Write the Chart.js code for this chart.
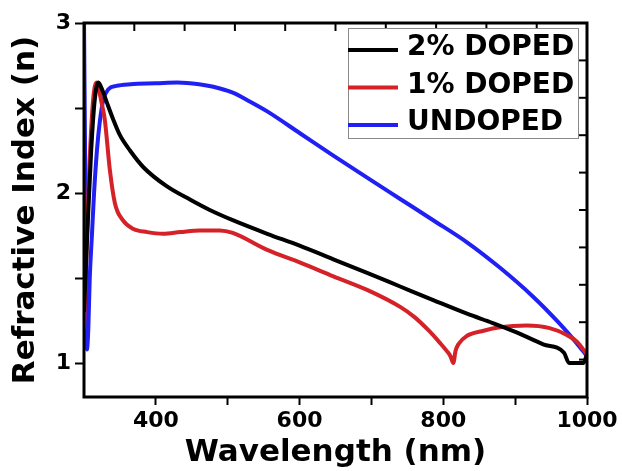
<!DOCTYPE html>
<html>
<head>
<meta charset="utf-8">
<script src="https://cdn.jsdelivr.net/npm/chart.js@4.4.1/dist/chart.umd.min.js"></script>
<style>
  html, body { margin: 0; padding: 0; background: #fff; }
  #wrap { width: 622px; height: 471px; }
</style>
</head>
<body>
<div id="wrap"><canvas id="my-chart" width="622" height="471"></canvas></div>
<script>
// wavelength (nm) and refractive index
const wl2 = [300, 305, 310, 315, 320, 326, 332, 340, 350, 364, 383, 415, 448, 475, 507, 555, 600, 647, 694, 740, 786, 833, 869, 902, 939, 968, 975, 995, 1000];
const n2  = [1.3, 1.8, 2.25, 2.55, 2.65, 2.6, 2.53, 2.44, 2.34, 2.25, 2.15, 2.04, 1.96, 1.9, 1.84, 1.76, 1.69, 1.61, 1.53, 1.45, 1.37, 1.29, 1.235, 1.18, 1.11, 1.06, 1.0, 1.0, 1.05];

const wl1 = [300, 303, 307, 311, 314, 317, 320, 325, 329, 336, 343, 354, 368, 388, 410, 434, 461, 489, 507, 555, 601, 647, 694, 740, 760, 780, 795, 805, 810, 814, 817, 821, 833, 856, 879, 916, 948, 972, 986, 1000];
const n1  = [1.2, 1.6, 2.1, 2.45, 2.6, 2.65, 2.62, 2.52, 2.43, 2.135, 1.94, 1.84, 1.79, 1.77, 1.76, 1.77, 1.78, 1.78, 1.765, 1.665, 1.59, 1.51, 1.43, 1.33, 1.27, 1.19, 1.12, 1.07, 1.04, 1.0, 1.07, 1.11, 1.16, 1.19, 1.21, 1.22, 1.205, 1.165, 1.125, 1.05];

const wl0 = [300, 302, 304, 306, 308, 311, 314, 318, 322, 327, 334, 345, 365, 400, 430, 460, 480, 507, 530, 555, 601, 647, 694, 740, 786, 833, 879, 925, 960, 985, 1000];
const n0  = [3.0, 2.0, 1.08, 1.2, 1.5, 1.75, 2.0, 2.25, 2.42, 2.55, 2.61, 2.63, 2.64, 2.645, 2.65, 2.64, 2.625, 2.59, 2.54, 2.48, 2.35, 2.22, 2.09, 1.965, 1.84, 1.71, 1.56, 1.39, 1.24, 1.12, 1.04];

const labels = ['2% DOPED', '1% DOPED', 'UNDOPED'];
const colors = ['#000000', '#d42228', '#2020f4'];
const xTicks = [400, 500, 600, 700, 800, 900, 1000];
const yTicks = [1, 1.5, 2, 2.5, 3];

function pts(xs, ys) {
  return xs.map((x, i) => ({ x: x, y: ys[i] }));
}

Chart.defaults.font.family = 'DejaVu Sans';
Chart.defaults.font.weight = 'bold';
Chart.defaults.color = '#000';

// frame, inward ticks on top/right, and boxed legend
const framePlugin = {
  id: 'frame',
  afterDatasetsDraw(chart) {
    const { ctx, chartArea: a } = chart;
    ctx.save();
    ctx.strokeStyle = '#000';
    ctx.lineWidth = 2;
    const xt = chart.scales.xTop, yr = chart.scales.yRight;
    for (let i = 1; i < 10; i++) {
      const px = xt.getPixelForValue(i);
      ctx.beginPath(); ctx.moveTo(px, a.top); ctx.lineTo(px, a.top + 8); ctx.stroke();
      const py = yr.getPixelForValue(i);
      ctx.beginPath(); ctx.moveTo(a.right, py); ctx.lineTo(a.right - 8, py); ctx.stroke();
    }
    ctx.lineWidth = 3;
    ctx.strokeRect(a.left, a.top, a.right - a.left, a.bottom - a.top);

    // legend box
    const bx = 348, by = 28, bw = 230, bh = 110;
    ctx.fillStyle = '#fff';
    ctx.fillRect(bx, by, bw, bh);
    ctx.lineWidth = 1;
    ctx.strokeStyle = '#8a8a8a';
    ctx.strokeRect(bx + 0.5, by + 0.5, bw, bh);
    ctx.font = 'bold 28px "DejaVu Sans"';
    ctx.textBaseline = 'alphabetic';
    chart.data.datasets.forEach((ds, i) => {
      const ly = 50 + i * 37.5;
      ctx.strokeStyle = ds.borderColor;
      ctx.lineWidth = 4;
      ctx.beginPath(); ctx.moveTo(bx, ly); ctx.lineTo(bx + 50, ly); ctx.stroke();
      ctx.fillStyle = '#000';
      ctx.fillText(ds.label, bx + 59, ly + 5);
    });
    ctx.restore();
  }
};

const ctx = document.getElementById('my-chart').getContext('2d');
const myChart = new Chart(ctx, {
  type: 'line',
  data: {
    datasets: [
      { label: labels[0], data: pts(wl2, n2) },
      { label: labels[1], data: pts(wl1, n1) },
      { label: labels[2], data: pts(wl0, n0) },
    ].map((d, i) => Object.assign(d, {
      borderColor: colors[i],
      backgroundColor: colors[i],
      borderWidth: 4,
      pointRadius: 0,
      cubicInterpolationMode: 'monotone',
      fill: false,
    })),
  },
  options: {
    responsive: false,
    animation: false,
    layout: { padding: { top: 23, right: 35, left: 0, bottom: 0 } },
    plugins: { legend: { display: false }, tooltip: { enabled: false } },
    scales: {
      x: {
        type: 'linear',
        position: 'bottom',
        min: 300,
        max: 1000,
        afterBuildTicks: s => { s.ticks = xTicks.map(v => ({ value: v })); },
        afterFit: s => { s.height = 74; },
        grid: { drawOnChartArea: false, tickLength: 8, tickWidth: 2, tickColor: '#000' },
        border: { display: false },
        ticks: {
          padding: 3,
          maxRotation: 0,
          font: { size: 22, weight: 'bold' },
          callback: v => (v % 200 === 0 ? String(v) : ''),
        },
        title: {
          display: true,
          text: 'Wavelength (nm)',
          font: { size: 31, weight: 'bold', lineHeight: 1 },
          padding: { top: 0, bottom: 3 },
        },
      },
      y: {
        type: 'linear',
        position: 'left',
        min: 0.8,
        max: 3,
        afterBuildTicks: s => { s.ticks = yTicks.map(v => ({ value: v })); },
        afterFit: s => { s.width = 84; },
        grid: { drawOnChartArea: false, tickLength: 9, tickWidth: 2, tickColor: '#000' },
        border: { display: false },
        ticks: {
          padding: 4,
          font: { size: 22, weight: 'bold' },
          callback: v => (Number.isInteger(v) ? String(v) : ''),
        },
        title: {
          display: true,
          text: 'Refractive Index (n)',
          font: { size: 31, weight: 'bold', lineHeight: 1 },
          padding: { top: 10, bottom: 0 },
        },
      },
      xTop: {
        type: 'linear', position: 'top', min: 0, max: 10,
        afterFit: s => { s.height = 0; },
        grid: { display: false }, border: { display: false }, ticks: { display: false },
      },
      yRight: {
        type: 'linear', position: 'right', min: 0, max: 10,
        afterFit: s => { s.width = 0; },
        grid: { display: false }, border: { display: false }, ticks: { display: false },
      },
    },
  },
  plugins: [framePlugin],
});
</script>
</body>
</html>
